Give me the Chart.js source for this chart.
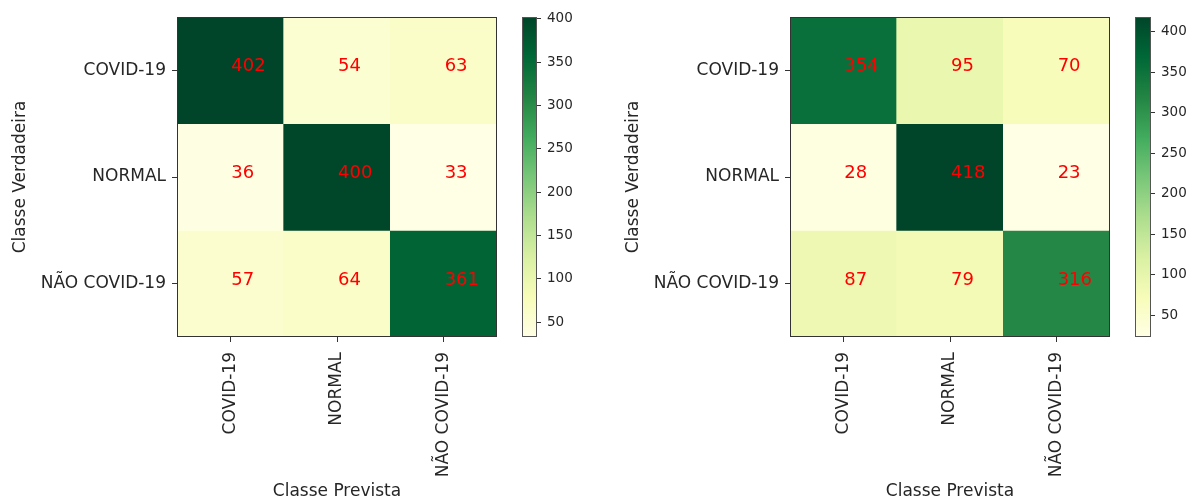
<!DOCTYPE html>
<html>
<head>
<meta charset="utf-8">
<script src="https://cdn.jsdelivr.net/npm/chart.js@4/dist/chart.umd.min.js"></script>
<style>
  body { margin: 0; background: #fff; }
  #wrap { position: relative; width: 1187px; height: 499px; overflow: hidden; }
  #wrap canvas { position: absolute; top: 0; }
</style>
</head>
<body>
<div id="wrap">
  <canvas id="cmLeft" width="500" height="499" style="left:0px"></canvas>
  <canvas id="cbLeft" width="100" height="499" style="left:500px"></canvas>
  <canvas id="cmRight" width="500" height="499" style="left:613px"></canvas>
  <canvas id="cbRight" width="74" height="499" style="left:1113px"></canvas>
</div>
<script>
// class names (rows = true class, columns = predicted class)
const classes = ['COVID-19', 'NORMAL', 'NÃO COVID-19'];

// confusion matrices
const matrixA = [
  [402, 54, 63],
  [36, 400, 33],
  [57, 64, 361]
];
const matrixB = [
  [354, 95, 70],
  [28, 418, 23],
  [87, 79, 316]
];

// colorbar ticks
const cbarTicks = [50, 100, 150, 200, 250, 300, 350, 400];

// YlGn colormap stops
const ylgn = [
  [255, 255, 229], [247, 252, 185], [217, 240, 163], [173, 221, 142],
  [120, 198, 121], [65, 171, 93], [35, 132, 67], [0, 104, 55], [0, 69, 41]
];

function cmap(t) {
  t = Math.max(0, Math.min(1, t));
  const pos = t * (ylgn.length - 1);
  const i = Math.min(Math.floor(pos), ylgn.length - 2);
  const f = pos - i;
  const a = ylgn[i], b = ylgn[i + 1];
  const c = a.map((v, k) => Math.round(v + (b[k] - v) * f));
  return `rgb(${c[0]}, ${c[1]}, ${c[2]})`;
}

Chart.defaults.font.family = 'DejaVu Sans';
Chart.defaults.color = '#262626';
Chart.defaults.animation = false;

const frame = {
  id: 'frame',
  afterDraw(chart, args, opts) {
    const { ctx, chartArea: a } = chart;
    ctx.save();
    ctx.strokeStyle = opts.color || '#333';
    ctx.lineWidth = 1;
    ctx.strokeRect(Math.round(a.left) + 0.5, Math.round(a.top) + 0.5,
      Math.round(a.right - a.left) - 1, Math.round(a.bottom - a.top) - 1);
    ctx.restore();
  }
};

function drawMatrix(canvasId, matrix) {
  const flat = matrix.flat();
  const vmin = Math.min(...flat), vmax = Math.max(...flat);
  const norm = v => (v - vmin) / (vmax - vmin);

  // one dataset per row, each bar spans the row's band on the y axis
  const datasets = matrix.map((row, i) => ({
    data: row.map(() => [i - 0.5, i + 0.5]),
    backgroundColor: row.map(v => cmap(norm(v))),
    borderWidth: 0,
    grouped: false,
    barPercentage: 1,
    categoryPercentage: 1
  }));

  const cellText = {
    id: 'cellText',
    afterDatasetsDraw(chart) {
      const { ctx, scales: { x, y } } = chart;
      ctx.save();
      ctx.fillStyle = '#ff0000';
      ctx.font = '18px "DejaVu Sans"';
      ctx.textAlign = 'left';
      ctx.textBaseline = 'alphabetic';
      matrix.forEach((row, i) => row.forEach((v, j) => {
        ctx.fillText(String(v), x.getPixelForValue(j) + 1, y.getPixelForValue(i) + 1);
      }));
      ctx.restore();
    }
  };

  new Chart(document.getElementById(canvasId), {
    type: 'bar',
    data: { labels: classes, datasets },
    options: {
      responsive: false,
      devicePixelRatio: 1,
      layout: { padding: { top: 17, right: 3, left: 0, bottom: 0 } },
      plugins: { legend: { display: false }, tooltip: { enabled: false }, frame: { color: '#333' } },
      scales: {
        x: {
          type: 'category',
          grid: { offset: false, drawOnChartArea: false, tickLength: 5, color: '#333' },
          border: { display: false },
          ticks: { autoSkip: false, maxRotation: 90, minRotation: 90, padding: 10, font: { size: 17 } },
          title: { display: true, text: 'Classe Prevista', font: { size: 17 }, padding: { top: 0, bottom: -3 } },
          afterFit(scale) { scale.height = 162; }
        },
        y: {
          type: 'linear',
          min: -0.5,
          max: 2.5,
          reverse: true,
          afterBuildTicks(scale) { scale.ticks = [0, 1, 2].map(v => ({ value: v })); },
          grid: { drawOnChartArea: false, tickLength: 5, color: '#333' },
          border: { display: false },
          ticks: { padding: 6, font: { size: 17 }, callback: v => classes[v] },
          title: { display: true, text: 'Classe Verdadeira', font: { size: 17 }, padding: { top: 10, bottom: 0 } },
          afterFit(scale) { scale.width = 177; }
        }
      }
    },
    plugins: [frame, cellText]
  });

  return [vmin, vmax];
}

function drawColorbar(canvasId, vmin, vmax, barWidth) {
  new Chart(document.getElementById(canvasId), {
    type: 'bar',
    data: {
      labels: [''],
      datasets: [{
        data: [[vmin, vmax]],
        borderWidth: 0,
        barPercentage: 1,
        categoryPercentage: 1,
        backgroundColor(ctx) {
          const chart = ctx.chart;
          if (!chart.chartArea) return null;
          const y = chart.scales.y;
          const g = chart.ctx.createLinearGradient(0, y.getPixelForValue(vmin), 0, y.getPixelForValue(vmax));
          ylgn.forEach((c, k) => g.addColorStop(k / (ylgn.length - 1), `rgb(${c[0]}, ${c[1]}, ${c[2]})`));
          return g;
        }
      }]
    },
    options: {
      responsive: false,
      devicePixelRatio: 1,
      layout: { padding: { top: 17, left: 22, bottom: 162, right: 0 } },
      plugins: { legend: { display: false }, tooltip: { enabled: false }, frame: { color: '#555' } },
      scales: {
        x: { display: false },
        y: {
          position: 'right',
          min: vmin,
          max: vmax,
          afterBuildTicks(scale) { scale.ticks = cbarTicks.filter(v => v >= vmin && v <= vmax).map(v => ({ value: v })); },
          grid: { drawOnChartArea: false, tickLength: 4, color: '#333' },
          border: { display: false },
          ticks: { padding: 6, font: { size: 13.5 } },
          afterFit(scale) { scale.width = scale.chart.width - 22 - barWidth; }
        }
      }
    },
    plugins: [frame]
  });
}

const [minA, maxA] = drawMatrix('cmLeft', matrixA);
drawColorbar('cbLeft', minA, maxA, 15);
const [minB, maxB] = drawMatrix('cmRight', matrixB);
drawColorbar('cbRight', minB, maxB, 16);
</script>
</body>
</html>
